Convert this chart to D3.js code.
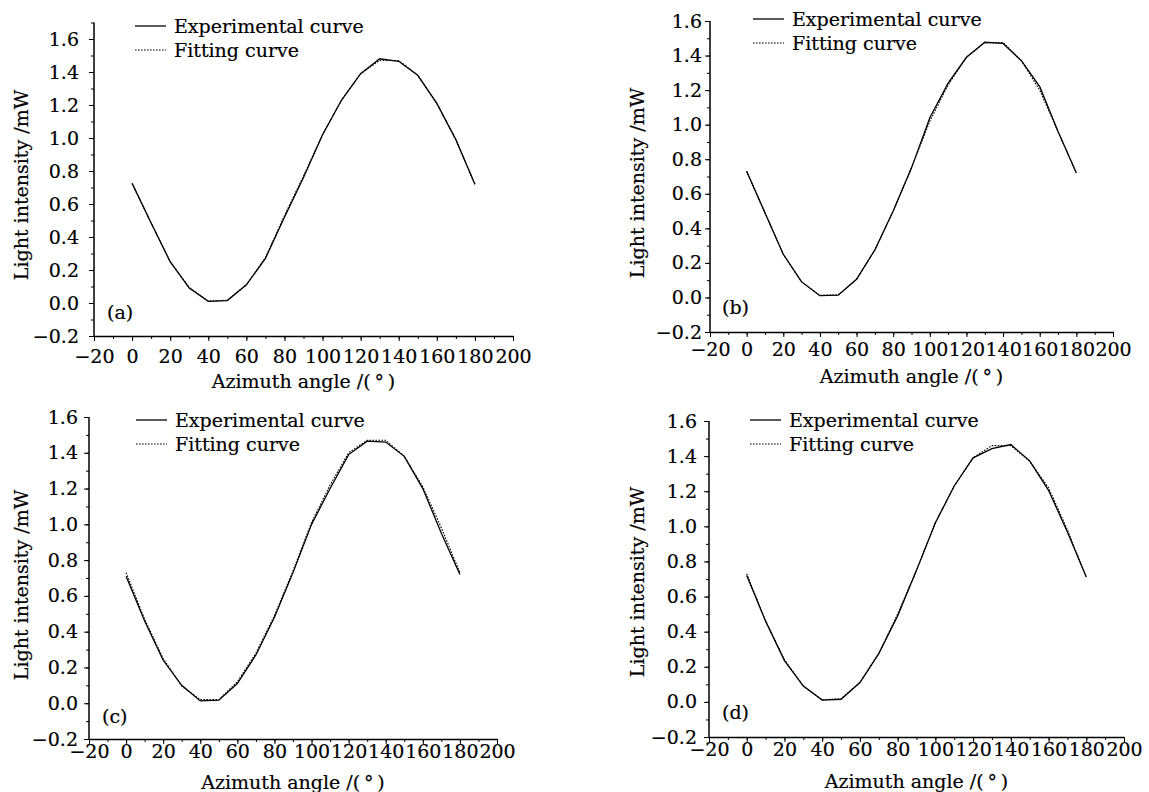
<!DOCTYPE html>
<html lang="en">
<head>
<meta charset="UTF-8" />
<title>Light intensity vs azimuth angle</title>
<script src="https://d3js.org/d3.v7.min.js"></script>
<style>
  body { margin: 0; background: #ffffff; }
  svg { display: block; background: #ffffff; font-family: "DejaVu Serif", "Liberation Serif", serif; }
  .tick text { font-size: 19px; fill: #000; stroke: #000; stroke-width: 0.2; }
  .axis path, .axis line { stroke: #000; }
  .title { font-size: 19px; fill: #000; stroke: #000; stroke-width: 0.2; }
  .exp { fill: none; stroke: #000; stroke-width: 1.3; }
  .fit { fill: none; stroke: #000; stroke-width: 1.1; stroke-dasharray: 1.6 1.4; }
</style>
</head>
<body>
<svg id="chart" width="1149" height="792"></svg>
<script>
// azimuth angles (deg)
const angles = [0, 10, 20, 30, 40, 50, 60, 70, 80, 90, 100, 110, 120, 130, 140, 150, 160, 170, 180];

// light intensity (mW)
const expA = [0.725, 0.485, 0.25, 0.09, 0.01, 0.015, 0.11, 0.27, 0.52, 0.76, 1.02, 1.23, 1.39, 1.48, 1.465, 1.38, 1.21, 0.99, 0.72];
const fitA = [0.725, 0.485, 0.25, 0.095, 0.012, 0.017, 0.11, 0.275, 0.53, 0.77, 1.02, 1.23, 1.39, 1.47, 1.47, 1.38, 1.21, 0.99, 0.72];
const expB = [0.73, 0.49, 0.25, 0.09, 0.01, 0.013, 0.105, 0.275, 0.5, 0.75, 1.04, 1.24, 1.39, 1.477, 1.47, 1.37, 1.22, 0.96, 0.72];
const fitB = [0.73, 0.49, 0.25, 0.09, 0.012, 0.015, 0.105, 0.275, 0.5, 0.75, 1.02, 1.23, 1.39, 1.475, 1.475, 1.37, 1.2, 0.96, 0.72];
const expC = [0.71, 0.46, 0.24, 0.10, 0.013, 0.017, 0.11, 0.27, 0.48, 0.73, 1.0, 1.2, 1.39, 1.465, 1.46, 1.38, 1.2, 0.95, 0.72];
const fitC = [0.73, 0.47, 0.25, 0.095, 0.02, 0.02, 0.12, 0.28, 0.49, 0.74, 1.01, 1.22, 1.40, 1.47, 1.47, 1.38, 1.21, 0.98, 0.73];
const expD = [0.72, 0.46, 0.235, 0.09, 0.01, 0.015, 0.11, 0.275, 0.49, 0.75, 1.02, 1.23, 1.39, 1.443, 1.466, 1.373, 1.205, 0.968, 0.712];
const fitD = [0.73, 0.46, 0.24, 0.09, 0.012, 0.018, 0.11, 0.275, 0.5, 0.75, 1.02, 1.23, 1.39, 1.46, 1.46, 1.37, 1.22, 0.98, 0.71];

const xTicks = [-20, 0, 20, 40, 60, 80, 100, 120, 140, 160, 180, 200];
const yTicks = [-0.2, 0.0, 0.2, 0.4, 0.6, 0.8, 1.0, 1.2, 1.4, 1.6];
const tags = ["(a)", "(b)", "(c)", "(d)"];
const legendLabels = ["Experimental curve", "Fitting curve"];

// panel placement
const panels = [
  { tag: tags[0], exp: expA, fit: fitA, left: 94, right: 513, y16: 39, y02: 336, ymax: 1.7,
    xPad: 9, yPad: 10, xTitleY: 388, yTitleX: 28, yTitleC: 185, legX: 135, legY: 26, tagX: 107, tagY: 319 },
  { tag: tags[1], exp: expB, fit: fitB, left: 710, right: 1113, y16: 21, y02: 332, ymax: 1.6,
    xPad: 6, yPad: 3, xTitleY: 383, yTitleX: 644, yTitleC: 183, legX: 753, legY: 19, tagX: 722, tagY: 314 },
  { tag: tags[2], exp: expC, fit: fitC, left: 89, right: 497, y16: 417, y02: 739, ymax: 1.6,
    xPad: 1, yPad: 6, xTitleY: 789, yTitleX: 28, yTitleC: 585, legX: 136, legY: 420, tagX: 102, tagY: 723 },
  { tag: tags[3], exp: expD, fit: fitD, left: 709, right: 1124, y16: 421, y02: 737, ymax: 1.6,
    xPad: 1, yPad: 7, xTitleY: 788, yTitleX: 644, yTitleC: 582, legX: 750, legY: 420, tagX: 722, tagY: 719 }
];

const svg = d3.select("#chart");

panels.forEach(p => {
  const x = d3.scaleLinear().domain([-20, 200]).range([p.left, p.right]);
  const y = d3.scaleLinear().domain([-0.2, 1.6]).range([p.y02, p.y16]);
  const g = svg.append("g");

  // minor ticks
  g.append("g").attr("class", "axis")
    .attr("transform", `translate(0,${p.y02})`)
    .call(d3.axisBottom(x).tickValues(d3.range(-20, 201, 10)).tickSize(3).tickFormat(""))
    .call(s => s.select(".domain").remove());
  g.append("g").attr("class", "axis")
    .attr("transform", `translate(${p.left},0)`)
    .call(d3.axisLeft(y).tickValues(d3.range(-2, Math.round(p.ymax * 10) + 1).map(v => v / 10)).tickSize(3).tickFormat(""))
    .call(s => s.select(".domain").remove());

  // major axes
  g.append("g").attr("class", "axis")
    .attr("transform", `translate(0,${p.y02})`)
    .call(d3.axisBottom(x).tickValues(xTicks).tickSize(5).tickSizeOuter(0).tickPadding(p.xPad).tickFormat(d3.format("d")))
    .call(s => s.select(".domain").attr("stroke-width", 1.5));
  const ya = g.append("g").attr("class", "axis")
    .attr("transform", `translate(${p.left},0)`)
    .call(d3.axisLeft(y).tickValues(yTicks).tickSize(5).tickSizeOuter(0).tickPadding(p.yPad).tickFormat(d3.format(".1f")));
  ya.select(".domain").attr("d", `M0,${y(p.ymax)}V${p.y02}`).attr("stroke-width", 1.5);
  g.selectAll(".axis").attr("font-family", "DejaVu Serif");

  // curves
  const line = d3.line().x((d, i) => x(angles[i])).y(d => y(d));
  g.append("path").attr("class", "exp").attr("d", line(p.exp));
  g.append("path").attr("class", "fit").attr("d", line(p.fit));

  // legend
  const leg = g.append("g").attr("transform", `translate(${p.legX},${p.legY})`);
  legendLabels.forEach((lab, i) => {
    leg.append("line").attr("class", i === 0 ? "exp" : "fit")
      .attr("x1", 0).attr("x2", 31).attr("y1", i * 24).attr("y2", i * 24);
    leg.append("text").attr("class", "title")
      .attr("x", 39).attr("y", i * 24 + 7).text(lab);
  });

  // panel tag
  g.append("text").attr("class", "title").attr("x", p.tagX).attr("y", p.tagY).text(p.tag);

  // axis titles
  g.append("text").attr("class", "title").attr("text-anchor", "middle")
    .attr("x", (p.left + p.right) / 2).attr("y", p.xTitleY)
    .text("Azimuth angle /(\u2009\u00b0\u2009)");
  g.append("text").attr("class", "title").attr("text-anchor", "middle")
    .attr("transform", `translate(${p.yTitleX},${p.yTitleC}) rotate(-90)`)
    .text("Light intensity /mW");
});
</script>
</body>
</html>
